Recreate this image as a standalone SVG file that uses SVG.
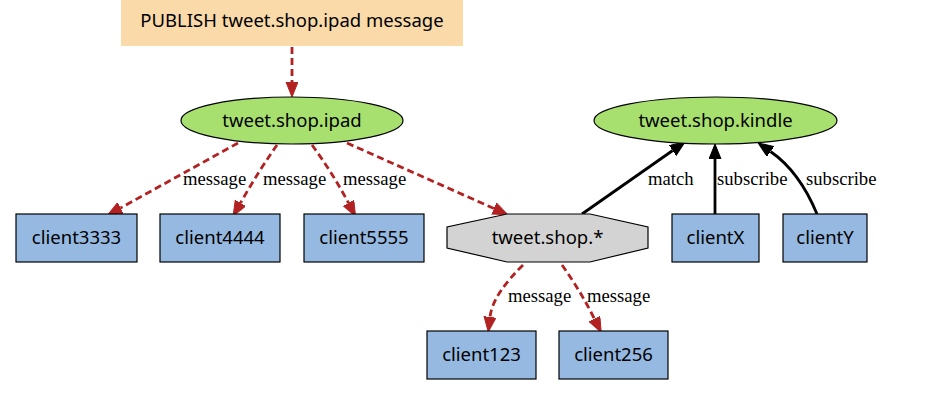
<svg xmlns="http://www.w3.org/2000/svg" width="937" height="408" viewBox="0 0 937 408">
<defs>
<marker id="ar" markerUnits="userSpaceOnUse" markerWidth="18" markerHeight="14" refX="0" refY="6" orient="auto"><path d="M0,0 L15,6 L0,12 Z" fill="#b22222" stroke="#b22222" stroke-width="1"/></marker>
<marker id="ab" markerUnits="userSpaceOnUse" markerWidth="18" markerHeight="14" refX="0" refY="6" orient="auto"><path d="M0,0 L15,6 L0,12 Z" fill="#000" stroke="#000" stroke-width="1"/></marker>
<style>
.n{font-family:"Noto Sans","Liberation Sans",sans-serif;font-size:18.5px;fill:#000;text-anchor:middle}
.l{font-family:"Liberation Serif",serif;font-size:18.67px;fill:#000}
.c{fill:#95b9e1;stroke:#000;stroke-width:1.2}
.e{fill:#a8e06f;stroke:#000;stroke-width:1.2}
.r{fill:none;stroke:#b22222;stroke-width:2.8;stroke-dasharray:7,4;marker-end:url(#ar)}
.b{fill:none;stroke:#000;stroke-width:2.8;marker-end:url(#ab)}
</style>
</defs>
<g id="connectors">
<path class="r" d="M292,47 L292,82"/>
<path class="r" d="M238,143 L120.5,208"/>
<path class="r" d="M277,145 Q258,172 240.5,203"/>
<path class="r" d="M312,145 Q332,172 348.5,203"/>
<path class="r" d="M347,143 L494,208.5"/>
<path class="b" d="M582,214 L672.7,150.5"/>
<path class="b" d="M715,214 L715,159"/>
<path class="b" d="M817,214 C805,185 790,165 770.5,151.5"/>
<path class="r" d="M523,265 C505,283 492,300 490,317"/>
<path class="r" d="M562,265 Q580,290 594.5,319"/>
<text class="l" x="183" y="185">message</text>
<text class="l" x="263" y="185">message</text>
<text class="l" x="343" y="185">message</text>
<text class="l" x="648" y="185">match</text>
<text class="l" x="717" y="185">subscribe</text>
<text class="l" x="806" y="185">subscribe</text>
<text class="l" x="508" y="302">message</text>
<text class="l" x="587" y="302">message</text>
</g>
<g id="publish"><rect x="121" y="0" width="342" height="46" fill="#fadaa9"/><text class="n" x="292" y="27">PUBLISH tweet.shop.ipad message</text></g>
<g id="ipad"><ellipse class="e" cx="292" cy="120.5" rx="111" ry="23.5"/><text class="n" x="292" y="127">tweet.shop.ipad</text></g>
<g id="kindle"><ellipse class="e" cx="715.5" cy="120.5" rx="121.5" ry="23.5"/><text class="n" x="715.5" y="127">tweet.shop.kindle</text></g>
<g id="client3333"><rect class="c" x="16" y="214" width="121" height="48"/><text class="n" x="76.5" y="244">client3333</text></g>
<g id="client4444"><rect class="c" x="160" y="214" width="120" height="48"/><text class="n" x="220" y="244">client4444</text></g>
<g id="client5555"><rect class="c" x="304" y="214" width="120" height="48"/><text class="n" x="364" y="244">client5555</text></g>
<g id="pattern"><polygon points="507,214 590,214 648,227 648,248 590,262 507,262 447,248 447,227" fill="#d3d3d3" stroke="#000" stroke-width="1.2"/><text class="n" x="547.5" y="244">tweet.shop.*</text></g>
<g id="clientX"><rect class="c" x="672" y="214" width="87" height="48"/><text class="n" x="715.5" y="244">clientX</text></g>
<g id="clientY"><rect class="c" x="783" y="214" width="84" height="48"/><text class="n" x="825" y="244">clientY</text></g>
<g id="client123"><rect class="c" x="427" y="331" width="109" height="48"/><text class="n" x="481.5" y="361">client123</text></g>
<g id="client256"><rect class="c" x="559" y="331" width="109" height="48"/><text class="n" x="613.5" y="361">client256</text></g>
</svg>
